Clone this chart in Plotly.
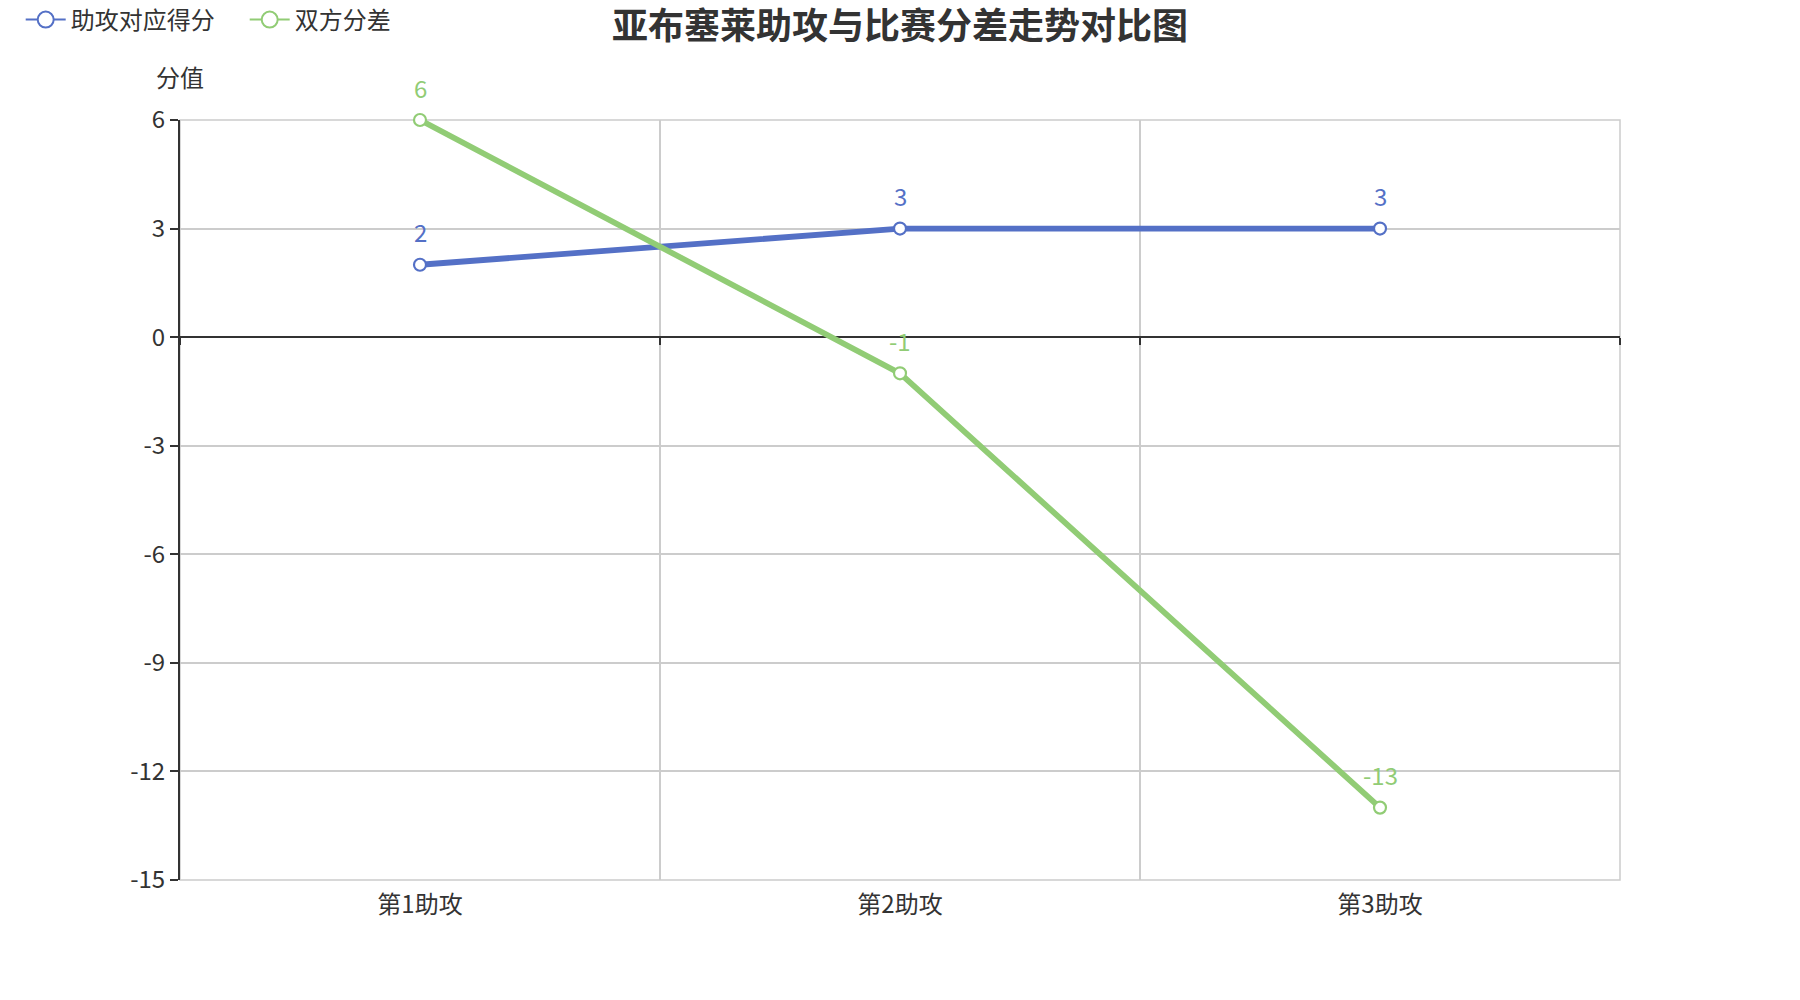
import plotly.graph_objects as go

categories = ["第1助攻", "第2助攻", "第3助攻"]
assist_points = [2, 3, 3]
score_diff = [6, -1, -13]
series_names = ["助攻对应得分", "双方分差"]
title_text = "亚布塞莱助攻与比赛分差走势对比图"
y_name = "分值"
y_ticks = [-15, -12, -9, -6, -3, 0, 3, 6]
y_tick_text = ["-15", "-12", "-9", "-6", "-3", "0", "3", "6"]

BLUE = "#5470c6"
GREEN = "#91cc75"
FONT = "Noto Sans CJK SC, Noto Sans, sans-serif"

fig = go.Figure()
for name, vals, col in [(series_names[0], assist_points, BLUE), (series_names[1], score_diff, GREEN)]:
    fig.add_trace(go.Scatter(
        x=categories, y=vals, name=name, mode="lines+markers",
        line=dict(color=col, width=5.8),
        marker=dict(size=12, color="white", line=dict(color=col, width=2.2)),
        cliponaxis=False, showlegend=False,
    ))
    # legend entry (echarts-style icon: thin line with large hollow circle)
    fig.add_trace(go.Scatter(
        x=categories, y=[None] * len(categories), name=name, mode="lines+markers",
        line=dict(color=col, width=2),
        marker=dict(size=20, color="white", line=dict(color=col, width=2)),
        showlegend=True, hoverinfo="skip",
    ))
    for c, v in zip(categories, vals):
        fig.add_annotation(x=c, y=v, text=str(v), showarrow=False, yshift=33,
                           font=dict(color=col, size=24, family=FONT),
                           xanchor="center", yanchor="middle")

# overlay axis carrying ticks on the zero line
fig.add_trace(go.Scatter(x=categories, y=[None] * len(categories), xaxis="x2",
                         showlegend=False, hoverinfo="skip", mode="lines"))

fig.update_layout(
    width=1800, height=1000,
    paper_bgcolor="white", plot_bgcolor="white",
    margin=dict(l=180, r=180, t=120, b=120),
    font=dict(family=FONT, size=24, color="#333"),
    title=dict(text=f"<b>{title_text}</b>", x=0.5, xanchor="center", y=0.974, yanchor="middle",
               font=dict(size=36, color="#333", family=FONT)),
    legend=dict(orientation="h", xref="container", yref="container", x=0.0115, y=0.98,
                xanchor="left", yanchor="middle", entrywidth=169,
                font=dict(size=24, color="#333"), itemwidth=40, traceorder="normal",
                itemsizing="trace", bgcolor="rgba(0,0,0,0)"),
    showlegend=True,
    xaxis2=dict(type="category", overlaying="x", matches="x", anchor="free", position=15 / 21,
                side="bottom", tickson="boundaries", ticks="outside", ticklen=7, tickwidth=2,
                tickcolor="#333", showticklabels=False, showgrid=False, showline=False, zeroline=False,
                range=[-0.5, 2.5]),
    shapes=[dict(type="rect", xref="paper", yref="paper", x0=0, x1=1, y0=0, y1=1,
                 line=dict(color="#cccccc", width=1.5), layer="below")],
)
fig.update_layout(xaxis=dict(
    type="category", range=[-0.5, 2.5], tickson="boundaries",
    showgrid=True, gridcolor="#cccccc", gridwidth=1.5,
    ticks="", showline=False, zeroline=False,
    tickfont=dict(size=24, color="#333"), ticklabelstandoff=8,
))
fig.update_yaxes(
    range=[-15, 6], tickvals=y_ticks, ticktext=y_tick_text,
    showgrid=True, gridcolor="#cccccc", gridwidth=1.5,
    showline=True, linecolor="#333", linewidth=2,
    ticks="outside", ticklen=8, tickwidth=2, tickcolor="#333",
    zeroline=True, zerolinecolor="#333", zerolinewidth=2,
    tickfont=dict(size=24, color="#333"),
)
fig.add_annotation(text=y_name, xref="paper", yref="paper", x=0, y=1, yshift=44,
                   showarrow=False, font=dict(size=24, color="#333"), xanchor="center", yanchor="middle")
fig.write_html("out.html", config={"displayModeBar": False},
               post_script="document.body.style.margin='0';")
